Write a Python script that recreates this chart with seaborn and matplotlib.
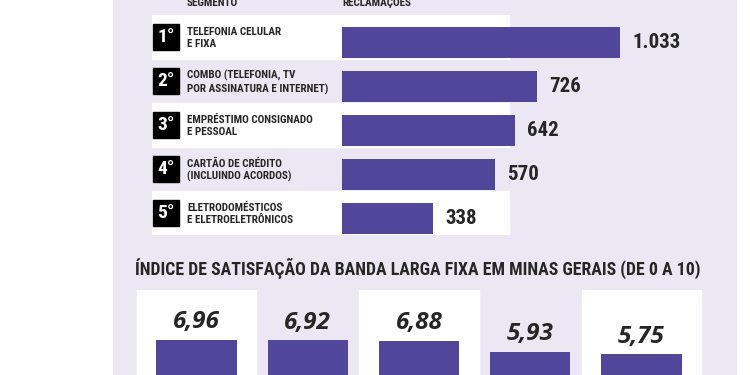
import matplotlib
matplotlib.use("Agg")
import matplotlib.pyplot as plt
import seaborn as sns
from matplotlib.patches import Rectangle
from matplotlib import font_manager

# data
segmentos = [
    "TELEFONIA CELULAR\nE FIXA",
    "COMBO (TELEFONIA, TV\nPOR ASSINATURA E INTERNET)",
    "EMPRÉSTIMO CONSIGNADO\nE PESSOAL",
    "CARTÃO DE CRÉDITO\n(INCLUINDO ACORDOS)",
    "ELETRODOMÉSTICOS\nE ELETROELETRÔNICOS",
]
ranking = ["1°", "2°", "3°", "4°", "5°"]
reclamacoes = [1033, 726, 642, 570, 338]

posicoes = ["1", "2", "3", "4", "5"]
indices = [6.96, 6.92, 6.88, 5.93, 5.75]

titulo = "ÍNDICE DE SATISFAÇÃO DA BANDA LARGA FIXA EM MINAS GERAIS (DE 0 A 10)"

ROXO = "#52469a"
LAVANDA = "#ebe8f4"

W, H = 750, 375

sns.set_style("white")
installed = {f.name for f in font_manager.fontManager.ttflist}
NARROW = "Roboto Condensed" if "Roboto Condensed" in installed else "DejaVu Sans"
ITAL = "Open Sans" if "Open Sans" in installed else "DejaVu Sans"
plt.rcParams["font.family"] = [NARROW, "DejaVu Sans"]

fig = plt.figure(figsize=(7.5, 3.75), dpi=100)
fig.patch.set_facecolor("white")
fig.add_artist(Rectangle((113 / W, 0), (736 - 113) / W, 1, transform=fig.transFigure,
                         color=LAVANDA, zorder=-1))

# ---- top: complaints ranking ----
k = 278 / 1033  # px per complaint
ax1 = fig.add_axes([152 / W, 1 - 235 / H, (736 - 152) / W, 220 / H])
ax1.set_facecolor("none")
sns.barplot(x=reclamacoes, y=segmentos, orient="h", color=ROXO, saturation=1,
            width=0.705, linewidth=0, ax=ax1, zorder=2)
ax1.set_xlim((152 - 342) / k, (736 - 342) / k)
ax1.set_ylim(4.386, -0.614)
ax1.axis("off")

tr = ax1.get_yaxis_transform()
for i, (rk, seg, v) in enumerate(zip(ranking, segmentos, reclamacoes)):
    yc = i - 0.114
    if i % 2 == 0:
        ax1.axhspan(i - 0.614, i + 0.386, xmin=0, xmax=(509 - 152) / (736 - 152),
                    color="white", zorder=0)
    ax1.add_patch(Rectangle((1 / 584, yc - 0.295), 26 / 584, 0.59, transform=tr,
                            color="black", zorder=3, clip_on=False))
    ax1.text(14 / 584, yc, rk, transform=tr, ha="center", va="center",
             color="white", fontsize=14, fontweight="heavy", zorder=4)
    ax1.text(35 / 584, yc + 0.03, seg, transform=tr, ha="left", va="center",
             fontsize=8, fontweight="heavy", linespacing=1.25, zorder=4)
    ax1.annotate(f"{v:,}".replace(",", "."), xy=(v, i), xytext=(8.6, 0),
                 textcoords="offset points", ha="left", va="center",
                 fontsize=15, fontweight="bold")

fig.text(187 / W, 1 - 6 / H, "SEGMENTO", fontsize=8, fontweight="heavy", va="baseline")
fig.text(342 / W, 1 - 6 / H, "RECLAMAÇÕES", fontsize=8, fontweight="heavy", va="baseline")

# ---- bottom: broadband satisfaction ----
t = fig.text(135 / W, 1 - 275 / H, titulo, fontsize=14, fontweight="bold", va="baseline")
fig.canvas.draw()
w = t.get_window_extent().width
t.set_fontsize(14 * 565 / w)

pitch = 111.25
ax2 = fig.add_axes([(196.5 - 0.6 * pitch) / W, 0, 5.2 * pitch / W, 85 / H])
ax2.set_facecolor("none")
sns.barplot(x=posicoes, y=indices, color=ROXO, saturation=1, width=0.72, linewidth=0,
            ax=ax2, zorder=2)
ax2.set_xlim(-0.6, 4.6)
ax2.set_ylim(4.04, 11.125)
ax2.axis("off")
for i, v in enumerate(indices):
    if i % 2 == 0:
        ax2.axvspan(i - 0.535, i + 0.535, color="white", zorder=0)
    ax2.annotate(f"{v:.2f}".replace(".", ","), xy=(i, v), xytext=(0, 8.6),
                 textcoords="offset points", ha="center", va="baseline",
                 fontsize=17.5, fontweight="bold", fontstyle="italic", family=ITAL)

fig.savefig("out.png", dpi=100)
